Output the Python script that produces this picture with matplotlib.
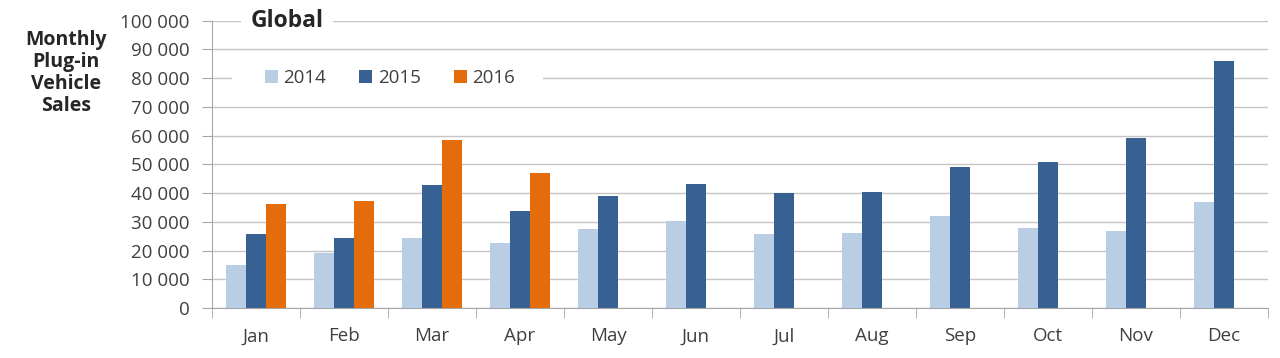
import numpy as np
import matplotlib
matplotlib.use("Agg")
import matplotlib.pyplot as plt
from matplotlib.ticker import FuncFormatter, MultipleLocator
from matplotlib.patches import Rectangle

plt.rcParams["font.family"] = ["Open Sans", "DejaVu Sans"]

months = ["Jan", "Feb", "Mar", "Apr", "May", "Jun",
          "Jul", "Aug", "Sep", "Oct", "Nov", "Dec"]
years = ["2014", "2015", "2016"]

sales_2014 = [15000, 19200, 24500, 22500, 27500, 30300,
              25800, 26000, 32100, 27800, 26800, 37000]
sales_2015 = [25600, 24200, 42800, 33900, 39100, 43000,
              40000, 40300, 49000, 50800, 59100, 86000]
sales_2016 = [36200, 37100, 58500, 46900]  # Jan-Apr only

colors = ["#B9CDE5", "#376093", "#E46C0A"]
text_col = "#404040"
grid_col = "#C4C4C4"
axis_col = "#A6A6A6"

fig = plt.figure(figsize=(12.8, 3.58), dpi=100)
ax = fig.add_axes([212 / 1280, 1 - 308 / 358, 1056 / 1280, 287.3 / 358])

x = np.arange(len(months))
w = 0.227
series = [sales_2014, sales_2015, sales_2016]
for i, (vals, col, lab) in enumerate(zip(series, colors, years)):
    ax.bar(x[:len(vals)] + (i - 1) * w, vals, width=w, color=col,
           label=lab, zorder=2)

ax.set_xlim(-0.5, 11.5)
ax.set_ylim(0, 100000)
ax.yaxis.set_major_locator(MultipleLocator(10000))
ax.yaxis.set_major_formatter(
    FuncFormatter(lambda v, p: f"{v:,.0f}".replace(",", " ")))
ax.set_xticks(x)
ax.set_xticklabels(months)
ax.set_xticks(np.arange(-0.5, 12, 1), minor=True)

ax.set_axisbelow(True)
ax.grid(axis="y", color=grid_col, lw=1)
for s in ["top", "right"]:
    ax.spines[s].set_visible(False)
for s in ["left", "bottom"]:
    ax.spines[s].set_color(axis_col)

ax.tick_params(axis="y", length=7, color=axis_col, labelsize=13.5,
               labelcolor=text_col, pad=9)
ax.tick_params(axis="x", which="major", length=0, labelsize=13.5,
               labelcolor=text_col, pad=14)
ax.tick_params(axis="x", which="minor", length=7, color=axis_col)

# white strip hiding the 80 000 gridline behind the legend
ax.add_patch(Rectangle((20 / 1056, 0.8 - 6 / 287.3), 311 / 1056, 12 / 287.3,
                       transform=ax.transAxes, facecolor="white",
                       edgecolor="none", zorder=1))
ax.legend(loc="center left", bbox_to_anchor=(36 / 1056, 0.8), ncol=3,
          frameon=False, fontsize=13.5, handlelength=0.7, handleheight=0.7,
          handletextpad=0.3, columnspacing=1.75, labelcolor=text_col)

ax.text(75 / 1056, 1.0, "Global", transform=ax.transAxes, ha="center",
        va="center", fontsize=16.5, fontweight="bold", color="#262626",
        bbox=dict(facecolor="white", edgecolor="none", pad=7), zorder=3)

fig.text(66 / 1280, 1 - 73 / 358, "Monthly\nPlug-in\nVehicle\nSales",
         ha="center", va="center", multialignment="center", fontsize=14,
         fontweight="bold", color="#262626", linespacing=1.12)

fig.savefig("out.png", dpi=100, facecolor="white")
